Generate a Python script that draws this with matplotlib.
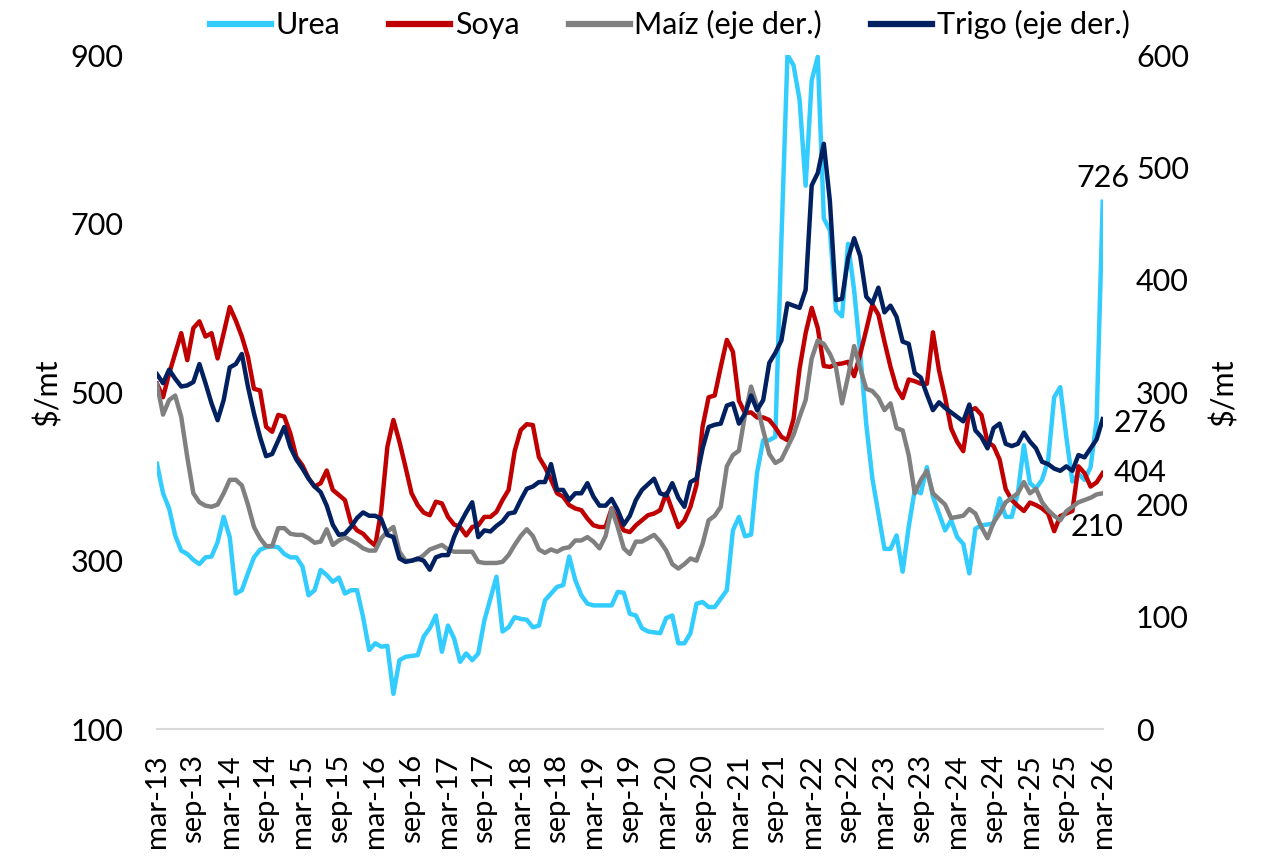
import numpy as np
from matplotlib import pyplot as plt

# monthly series, mar-13 .. mar-26
urea = [415, 380, 362, 330, 312, 308, 301, 296, 304, 305,
        322, 352, 328, 261, 265, 285, 304, 313, 316, 317,
        316, 308, 304, 304, 293, 259, 265, 289, 283, 275,
        280, 261, 265, 265, 233, 194, 202, 198, 199, 142,
        182, 186, 187, 188, 210, 220, 235, 192, 223, 208,
        180, 190, 182, 190, 229, 255, 281, 216, 221, 233,
        231, 230, 221, 223, 253, 261, 269, 271, 305, 277,
        259, 249, 247, 247, 247, 247, 263, 262, 237, 235,
        220, 216, 215, 214, 232, 235, 202, 202, 214, 249,
        251, 245, 245, 255, 265, 336, 352, 329, 331, 405,
        443, 443, 447, 680, 900, 888, 847, 745, 870, 898,
        706, 692, 597, 590, 676, 621, 547, 462, 398, 356,
        314, 314, 330, 287, 340, 384, 380, 411, 376, 356,
        336, 348, 328, 320, 285, 338, 342, 343, 344, 374,
        352, 352, 380, 437, 392, 386, 396, 419, 494, 506,
        447, 394, 403, 396, 411, 467, 726]

soya = [510, 494, 522, 546, 570, 538, 576, 584, 566, 570,
        540, 570, 601, 585, 566, 542, 504, 502, 459, 453,
        473, 471, 451, 423, 413, 398, 388, 392, 407, 384,
        378, 372, 345, 336, 332, 324, 318, 360, 435, 467,
        441, 411, 380, 366, 357, 354, 370, 368, 352, 343,
        340, 330, 340, 342, 352, 352, 358, 372, 384, 430,
        455, 462, 461, 423, 411, 396, 380, 376, 366, 362,
        360, 350, 342, 340, 340, 362, 348, 336, 334, 342,
        348, 354, 356, 360, 380, 360, 340, 348, 364, 390,
        459, 494, 496, 530, 562, 548, 490, 475, 476, 470,
        470, 467, 458, 447, 443, 468, 528, 570, 600, 576,
        531, 530, 533, 534, 536, 519, 545, 574, 604, 592,
        560, 530, 505, 493, 515, 513, 510, 510, 571, 526,
        494, 457, 441, 430, 478, 481, 473, 441, 436, 420,
        385, 372, 365, 359, 369, 366, 362, 356, 335, 353,
        356, 359, 412, 404, 388, 393, 404]

maiz = [307, 280, 293, 297, 278, 242, 210, 202, 199, 198,
        200, 210, 222, 222, 217, 200, 180, 170, 163, 163,
        179, 179, 174, 173, 173, 170, 166, 167, 178, 164,
        168, 171, 168, 165, 161, 159, 159, 170, 176, 180,
        158, 150, 150, 151, 155, 160, 162, 164, 160, 158,
        158, 158, 158, 149, 148, 148, 148, 149, 155, 164,
        172, 178, 172, 160, 157, 160, 158, 161, 162, 168,
        168, 171, 167, 161, 172, 196, 180, 161, 156, 167,
        167, 170, 173, 167, 159, 147, 143, 147, 152, 150,
        165, 186, 190, 198, 234, 244, 248, 280, 305, 288,
        266, 245, 237, 240, 251, 262, 278, 293, 330, 346,
        343, 334, 322, 290, 314, 341, 321, 303, 301, 295,
        284, 290, 268, 266, 244, 210, 222, 230, 210, 205,
        200, 188, 189, 190, 196, 192, 180, 170, 184, 192,
        202, 206, 210, 220, 210, 214, 202, 195, 190, 186,
        194, 198, 202, 204, 206, 209, 210]

trigo = [316, 308, 320, 312, 305, 306, 309, 325, 308, 290,
         275, 293, 322, 325, 334, 305, 281, 260, 243, 245,
         257, 269, 251, 240, 232, 223, 216, 211, 199, 182,
         173, 174, 180, 188, 193, 190, 190, 187, 173, 171,
         152, 149, 150, 152, 150, 142, 153, 155, 155, 171,
         183, 193, 202, 171, 177, 176, 181, 185, 192, 193,
         204, 214, 216, 220, 220, 236, 213, 213, 204, 210,
         210, 219, 207, 199, 199, 205, 195, 182, 190, 204,
         213, 218, 223, 210, 208, 219, 206, 198, 220, 223,
         250, 269, 271, 272, 288, 290, 272, 281, 297, 284,
         293, 326, 335, 346, 379, 377, 375, 391, 484, 495,
         521, 470, 382, 383, 419, 437, 421, 385, 379, 393,
         371, 377, 367, 345, 343, 317, 313, 298, 284, 291,
         286, 282, 278, 274, 289, 266, 260, 250, 268, 272,
         254, 252, 254, 264, 256, 250, 238, 236, 232, 230,
         234, 230, 244, 242, 250, 258, 276]

tick_labels = ["mar-13", "sep-13", "mar-14", "sep-14", "mar-15", "sep-15",
               "mar-16", "sep-16", "mar-17", "sep-17", "mar-18", "sep-18",
               "mar-19", "sep-19", "mar-20", "sep-20", "mar-21", "sep-21",
               "mar-22", "sep-22", "mar-23", "sep-23", "mar-24", "sep-24",
               "mar-25", "sep-25", "mar-26"]

plt.rcParams["font.family"] = ["Lato", "DejaVu Sans"]
fs = 22
lw = 3.2

t = np.arange(len(urea))

fig = plt.figure(figsize=(12.66, 8.6), dpi=100)
ax1 = fig.add_axes([0.124, 0.152, 0.747, 0.784])
ax2 = ax1.twinx()

l1, = ax1.plot(t, urea, color="#33CCFF", lw=lw, label="Urea")
l2, = ax1.plot(t, soya, color="#C00000", lw=lw, label="Soya")
l3, = ax2.plot(t, maiz, color="#808080", lw=lw, label="Maíz (eje der.)")
l4, = ax2.plot(t, trigo, color="#002060", lw=lw, label="Trigo (eje der.)")

ax1.set_xlim(0, len(urea) - 1)
ax1.set_ylim(100, 900)
ax2.set_ylim(0, 600)
ax1.set_yticks([100, 300, 500, 700, 900])
ax2.set_yticks(range(0, 601, 100))
ax1.set_xticks(t[::6])
ax1.set_xticklabels(tick_labels, rotation=90, fontsize=21)

for ax in (ax1, ax2):
    for s in ax.spines.values():
        s.set_visible(False)
    ax.tick_params(length=0)
    ax.tick_params(axis="y", labelsize=fs, pad=24)
ax1.spines["bottom"].set_visible(True)
ax1.spines["bottom"].set_color("#D9D9D9")
ax1.spines["bottom"].set_linewidth(1.5)
ax1.tick_params(axis="x", pad=18)

ax1.set_ylabel(r"\$/mt", fontsize=fs, labelpad=6)
ax2.set_ylabel(r"\$/mt", fontsize=fs, labelpad=14)

# end-of-series labels
ax1.annotate(str(urea[-1]), (t[-1], urea[-1]), xytext=(0, 17), textcoords="offset points",
             ha="center", va="center", fontsize=fs)
ax1.annotate(str(soya[-1]), (t[-1], soya[-1]), xytext=(8, 0), textcoords="offset points",
             ha="left", va="center", fontsize=fs)
ax2.annotate(str(trigo[-1]), (t[-1], trigo[-1]), xytext=(8, -3), textcoords="offset points",
             ha="left", va="center", fontsize=fs)
ax2.annotate(str(maiz[-1]), (t[-1], maiz[-1]), xytext=(-4, -24), textcoords="offset points",
             ha="center", va="center", fontsize=fs)

leg = fig.legend(handles=[l1, l2, l3, l4], loc="center", bbox_to_anchor=(0.529, 0.971),
                 ncol=4, frameon=False, fontsize=fs, handlelength=2.0,
                 handletextpad=0.15, columnspacing=1.6)
for h in leg.get_lines():
    h.set_linewidth(4.5)

fig.savefig("out.png", dpi=100)
